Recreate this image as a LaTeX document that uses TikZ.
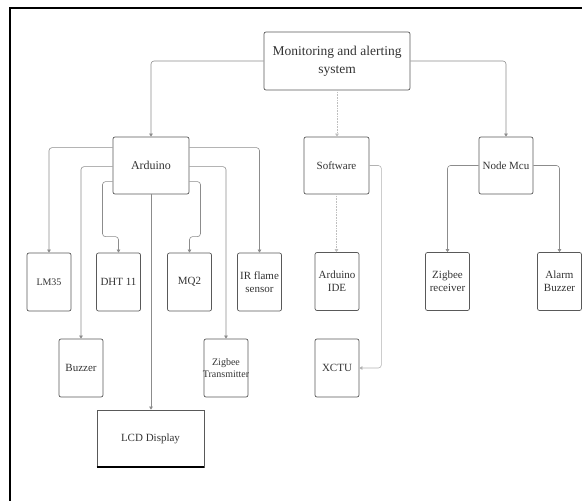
\documentclass[tikz,border=0pt]{standalone}
\usepackage{fontspec}
\setmainfont{Liberation Serif}
\usetikzlibrary{arrows.meta,calc}

\begin{document}
\begin{tikzpicture}[x=1pt, y=-1pt,
    block/.style={rectangle, rounded corners=2pt, draw=black!65, line width=0.7pt, align=center, text=black!80, font=\fontsize{11}{13}\selectfont, inner sep=1pt, minimum width=44pt, minimum height=58pt},
    link/.style={-{Triangle[length=3pt, width=3.5pt]}, draw=black!45, line width=0.6pt, rounded corners=3pt},
    faint/.style={-{Triangle[length=3pt, width=3.5pt]}, draw=black!25, line width=0.6pt, densely dotted}
]
\useasboundingbox (0,0) rectangle (582,501);

% Frame
\draw[line width=1.8pt] (10,501) -- (10,8) -- (582,8);

% Top level
\node[block, minimum width=146pt, font=\fontsize{13.5}{18}\selectfont] (main) at (337,61) {Monitoring and alerting\\system};

% Second level
\node[block, minimum width=76pt, minimum height=57pt, font=\fontsize{12}{14}\selectfont] (arduino) at (151,165.5) {Arduino};
\node[block, minimum width=65pt, minimum height=57pt] (software) at (336.5,165.5) {Software};
\node[block, minimum width=54pt, minimum height=57pt] (nodemcu) at (506,165.5) {Node Mcu};

% Third level
\node[block, font=\fontsize{10}{12}\selectfont] (lm) at (49,282) {LM35};
\node[block] (dht) at (118.5,282) {DHT 11};
\node[block] (mq) at (189.5,282) {MQ2};
\node[block] (irflame) at (259.5,282) {IR flame\\sensor};
\node[block] (ide) at (337,281.5) {Arduino\\IDE};
\node[block] (zigrx) at (447.5,281.5) {Zigbee\\receiver};
\node[block] (alarm) at (559.5,281.5) {Alarm\\Buzzer};

\node[block] (buzzer) at (81,368) {Buzzer};
\node[block, inner xsep=-2pt, font=\fontsize{10}{12}\selectfont] (zigtx) at (226,368) {Zigbee\\Transmitter};
\node[block] (xctu) at (337,368) {XCTU};

\node[block, rounded corners=0pt, minimum width=107pt, minimum height=57pt] (lcd) at (150.5,438.5) {LCD Display};
\draw[line width=1.8pt] (lcd.south west) -- (lcd.south east);

% Connectors from the top block
\draw[link] (main.west) -| (arduino.north);
\draw[faint] (main.south) -- (main.south |- software.north);
\draw[link] (main.east) -| (nodemcu.north);

% Arduino
\draw[link] ([yshift=-11pt]arduino.north west) -| (lm.north);
\draw[link] ([yshift=-30pt]arduino.north west) -| (buzzer.north);
\draw[link] ([yshift=-45pt]arduino.north west) -| ($(dht.north)+(-16,-16)$) -| (dht.north);
\draw[link] (arduino.south) -- (arduino.south |- lcd.north);
\draw[link] ([yshift=-45pt]arduino.north east) -| ($(mq.north)+(11,-16)$) -| (mq.north);
\draw[link] ([yshift=-30pt]arduino.north east) -| (zigtx.north);
\draw[link] ([yshift=-11pt]arduino.north east) -| (irflame.north);

% Software
\draw[faint] (software.south) -- (software.south |- ide.north);
\draw[link, draw=black!30] (software.east) -| ($(xctu.east)+(22,0)$) -- (xctu.east);

% Node Mcu
\draw[link] (nodemcu.west) -| (zigrx.north);
\draw[link] (nodemcu.east) -| (alarm.north);

\end{tikzpicture}
\end{document}
